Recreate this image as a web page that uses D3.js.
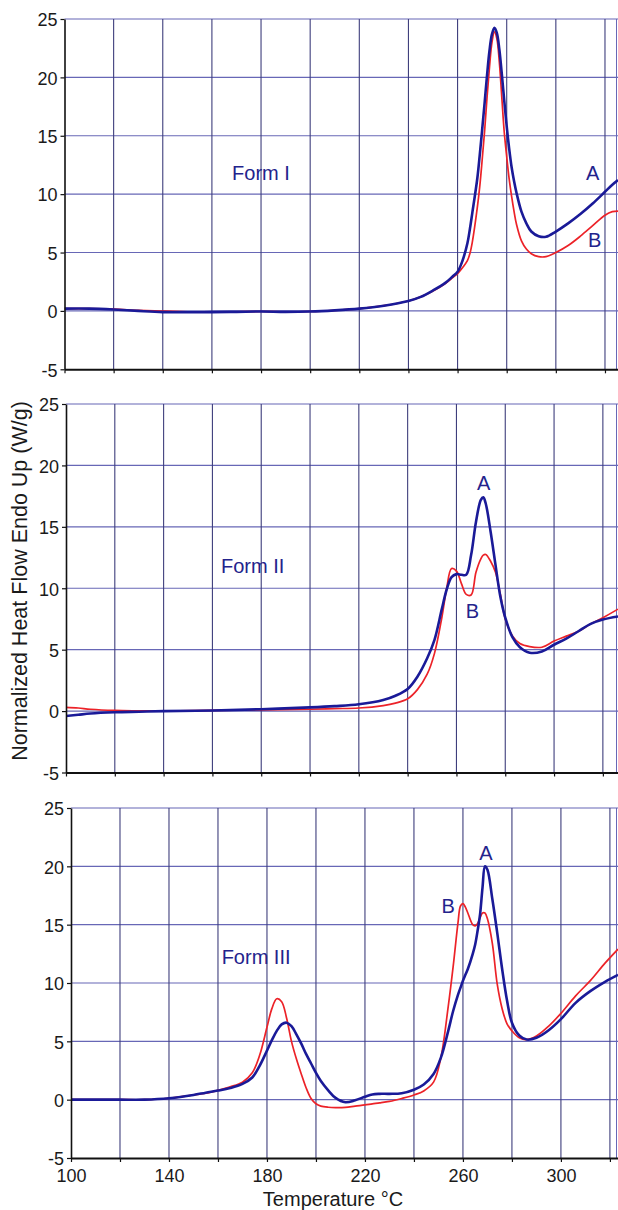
<!DOCTYPE html>
<html><head><meta charset="utf-8">
<script src="https://cdn.jsdelivr.net/npm/d3@7/dist/d3.min.js"></script>
<style>body{margin:0;background:#fff}svg{display:block}</style>
</head><body>
<svg id="chart" width="618" height="1210"></svg>
<script>
// ---------------- data ----------------
const xTickValues = [100,120,140,160,180,200,220,240,260,280,300,320];
const xTickLabels = ["100","140","180","220","260","300"];
const yTickValues = [-5,0,5,10,15,20,25];
const formNames = ["Form I","Form II","Form III"];
const seriesNames = ["A","B"];
const xTitle = "Temperature °C";
const yTitle = "Normalized Heat Flow Endo Up (W/g)";

// Form I
const tempsI = [100,110,120,130,140,150,160,170,180,190,200,210,220,230,240,245,250,255,258,260,262,264,265,266,268,269,270,271,272,273,274,275,276,277,278,279,280,281,282,283,284,286,288,290,293,296,300,305,310,315,320,323,325.3];
const formI_A = [0.2,0.2,0.12,0.0,-0.1,-0.12,-0.1,-0.08,-0.05,-0.08,-0.05,0.05,0.2,0.45,0.85,1.2,1.75,2.4,2.95,3.35,4.3,5.8,7.0,8.4,11.3,13.3,15.5,17.8,20.2,22.3,23.7,24.25,23.8,22.4,20.3,18.0,15.8,13.9,12.3,11.1,10.1,8.5,7.5,6.8,6.4,6.35,6.8,7.5,8.3,9.2,10.2,10.8,11.2];
const formI_B = [0.2,0.2,0.15,0.05,-0.02,-0.08,-0.1,-0.08,-0.05,-0.08,-0.05,0.05,0.2,0.45,0.85,1.2,1.7,2.35,2.85,3.2,3.7,4.3,4.9,5.9,8.8,10.6,12.9,15.4,18.3,20.9,23.0,23.9,23.3,21.3,18.3,15.3,13.2,11.3,9.8,8.5,7.4,6.0,5.3,4.9,4.65,4.65,5.0,5.6,6.4,7.3,8.2,8.5,8.55];

// Form II
const tempsII = [100,105,110,120,130,140,160,180,200,210,220,230,235,240,244,248,251,254,256,258,260,262,264,266,268,270,271,272,274,276,278,280,283,286,290,295,300,305,310,315,320,326.2];
const formII_A = [-0.4,-0.3,-0.2,-0.1,-0.05,0,0.05,0.15,0.3,0.4,0.55,0.9,1.25,1.8,2.8,4.3,5.8,8.3,9.9,10.9,11.15,11.1,11.1,12.7,15.4,17.2,17.4,16.9,14.6,11.9,9.3,7.6,6.0,5.2,4.75,4.85,5.4,5.9,6.5,7.1,7.45,7.7];
const formII_B = [0.3,0.25,0.15,0.05,0.02,0,0.05,0.1,0.15,0.2,0.25,0.45,0.65,1.0,1.75,3.0,4.7,7.6,10.0,11.6,11.4,10.4,9.5,9.45,11.3,12.4,12.7,12.75,12.2,11.3,9.5,7.5,6.1,5.5,5.25,5.2,5.7,6.1,6.5,7.1,7.6,8.3];

// Form III
const tempsIII = [100,110,120,130,140,150,155,160,165,170,174,177,180,182,184,186,188,190,192,194,196,198,200,202,205,208,212,216,220,223,226,230,235,240,244,248,251,254,256,258,259,260,261,262,264,265,266,267,268,269,270,272,274,276,278,280,283,286,290,295,300,306,312,318,323.3];
const formIII_A = [0,0,0,0,0.12,0.4,0.6,0.78,1.0,1.35,1.9,2.9,4.2,5.1,5.9,6.45,6.6,6.3,5.6,4.8,3.9,3.1,2.3,1.6,0.8,0.15,-0.22,-0.05,0.25,0.45,0.5,0.5,0.55,0.85,1.3,2.2,3.6,5.9,7.6,9.0,9.6,10.2,10.7,11.2,12.5,13.3,14.5,15.9,18.2,20.0,19.7,17.2,14.3,11.2,8.5,6.6,5.5,5.15,5.3,5.95,6.9,8.3,9.3,10.1,10.7];
const formIII_B = [0,0,0,0,0.12,0.4,0.55,0.8,1.1,1.5,2.3,3.8,6.2,7.8,8.65,8.4,7.0,5.0,3.5,2.2,1.0,0.1,-0.35,-0.55,-0.65,-0.68,-0.66,-0.55,-0.45,-0.36,-0.28,-0.15,0.1,0.4,0.75,1.5,3.6,8.0,11.4,15.2,16.6,16.8,16.5,16.0,15.0,14.9,15.1,15.6,16.0,16.0,15.5,13.4,9.9,7.8,6.5,5.9,5.3,5.15,5.45,6.3,7.4,8.9,10.2,11.7,12.9];

// annotation anchors (data units: temperature, heat flow)
const nameAnchorT = [168.2,163.5,161.5];
const nameAnchorV = [11.8,11.83,12.26];
const labelAT = [315.0,271.2,269.4];
const labelAV = [11.8,18.6,21.2];
const labelBT = [315.8,266.5,254.0];
const labelBV = [6.07,8.2,16.65];

// ---------------- layout ----------------
const panels = [
  {temps: tempsI,   A: formI_A,   B: formI_B,   left: 64.5, xEnd: 325.3, top: 19,  bottom: 369.3, showLabels: false},
  {temps: tempsII,  A: formII_A,  B: formII_B,  left: 66,   xEnd: 326.2, top: 404, bottom: 772.5, showLabels: false},
  {temps: tempsIII, A: formIII_A, B: formIII_B, left: 71,   xEnd: 323.3, top: 808, bottom: 1158,  showLabels: true}
];
const W = 618;
const FONT = "'Liberation Sans', Arial, Helvetica, sans-serif";
const colA = "#1a1a98", colB = "#ec2228", textCol = "#23238c";
const vGrid = "#3e3e7c", hGrid = "#6767b6";

const svg = d3.select("#chart");

panels.forEach((p, i) => {
  const x = d3.scaleLinear().domain([100, p.xEnd]).range([p.left, W]);
  const y = d3.scaleLinear().domain([-5, 25]).range([p.bottom, p.top]);
  const g = svg.append("g");

  // grid
  g.selectAll("line.hg").data(yTickValues.filter(v => v > -5)).join("line")
    .attr("x1", p.left).attr("x2", W).attr("y1", d => y(d)).attr("y2", d => y(d))
    .attr("stroke", hGrid).attr("stroke-width", 1.1);
  g.selectAll("line.vg").data(xTickValues.filter(v => v > 100)).join("line")
    .attr("x1", d => x(d)).attr("x2", d => x(d)).attr("y1", y(25)).attr("y2", y(-5))
    .attr("stroke", vGrid).attr("stroke-width", 1.1);
  g.append("line").attr("x1", W - 1.5).attr("x2", W - 1.5).attr("y1", y(25)).attr("y2", y(-5))
    .attr("stroke", hGrid).attr("stroke-width", 1);

  // clip
  const cid = "clip" + i;
  svg.append("clipPath").attr("id", cid).append("rect")
    .attr("x", p.left).attr("y", y(25)).attr("width", W - p.left).attr("height", y(-5) - y(25));

  const line = vals => d3.line().x((d, k) => x(p.temps[k])).y(d => y(d))
    .curve(d3.curveCatmullRom.alpha(0.5))(vals);
  g.append("path").attr("d", line(p.B)).attr("fill", "none").attr("stroke", colB)
    .attr("stroke-width", 1.7).attr("stroke-linejoin", "round").attr("clip-path", `url(#${cid})`);
  g.append("path").attr("d", line(p.A)).attr("fill", "none").attr("stroke", colA)
    .attr("stroke-width", 2.6).attr("stroke-linejoin", "round").attr("clip-path", `url(#${cid})`);

  // axes
  const ax = g.append("g").attr("transform", `translate(${p.left},0)`)
    .call(d3.axisLeft(y).tickValues(yTickValues).tickSize(4).tickSizeOuter(0).tickPadding(3).tickFormat(d => String(d)));
  ax.select(".domain").attr("stroke", "#111").attr("stroke-width", 1.6);
  ax.selectAll(".tick line").attr("stroke", "#111").attr("stroke-width", 1.2);
  ax.selectAll(".tick text").attr("font-family", FONT).attr("font-size", 18).attr("fill", "#1a1a1a")
    .attr("dy", "0.38em");

  const bx = g.append("g").attr("transform", `translate(0,${y(-5)})`)
    .call(d3.axisBottom(x).tickValues(xTickValues).tickSize(4).tickSizeOuter(0).tickPadding(3)
      .tickFormat(d => p.showLabels && xTickLabels.includes(String(d)) ? String(d) : ""));
  bx.select(".domain").attr("stroke", "#111").attr("stroke-width", 2);
  bx.selectAll(".tick line").attr("stroke", "#111").attr("stroke-width", 1.2);
  bx.selectAll(".tick text").attr("font-family", FONT).attr("font-size", 18).attr("fill", "#1a1a1a")
    .attr("dy", "0.95em");

  // annotations
  g.append("text").attr("x", x(nameAnchorT[i])).attr("y", y(nameAnchorV[i])).attr("dy", "0.36em")
    .attr("font-family", FONT).attr("font-size", 20).attr("fill", textCol).text(formNames[i]);
  g.append("text").attr("x", x(labelAT[i])).attr("y", y(labelAV[i])).attr("dy", "0.36em")
    .attr("text-anchor", "middle").attr("font-family", FONT).attr("font-size", 20).attr("fill", textCol).text(seriesNames[0]);
  g.append("text").attr("x", x(labelBT[i])).attr("y", y(labelBV[i])).attr("dy", "0.36em")
    .attr("text-anchor", "middle").attr("font-family", FONT).attr("font-size", 20).attr("fill", textCol).text(seriesNames[1]);
});

// titles
svg.append("text").attr("x", 333).attr("y", 1206).attr("text-anchor", "middle")
  .attr("font-family", FONT).attr("font-size", 20).attr("fill", "#1a1a1a").text(xTitle);
svg.append("text").attr("transform", "translate(27,581) rotate(-90)").attr("text-anchor", "middle")
  .attr("font-family", FONT).attr("font-size", 21.5).attr("fill", "#1a1a1a").text(yTitle);
</script>
</body></html>
